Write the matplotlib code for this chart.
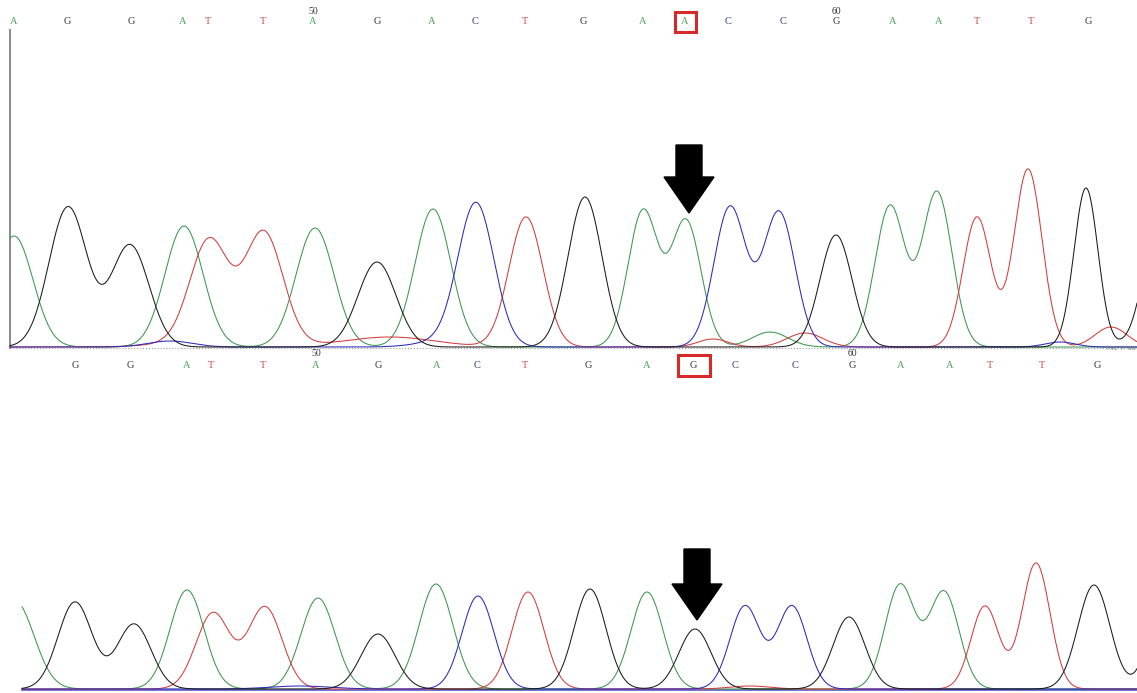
import matplotlib
matplotlib.use("Agg")
import matplotlib.pyplot as plt
import numpy as np
from matplotlib.patches import Polygon, Rectangle

# trace colours and base-call letter colours
trace_colors = {'A': '#3c9650', 'G': '#1a1a1a', 'C': '#2a2ab8', 'T': '#d23c3c'}
letter_colors = {'A': '#4ea35a', 'G': '#333333', 'C': '#34347c', 'T': '#c84a4a'}

# ---- sample 1 (top) ----
top_seq = list("AGGATTAGACTGAACCGAATTG")
top_start = 44
top_label_x = [14, 67, 131, 183, 208, 263, 313, 377, 432, 475, 525, 583, 643, 685, 728, 783, 836, 893, 939, 977, 1031, 1088]
top_peak_x = [14, 68, 130, 184, 209, 264, 315, 377, 433, 476, 526, 585, 643, 686, 730, 779, 836, 890, 937, 977, 1028, 1086]
top_peak_h = [111, 140, 102, 121, 100, 110, 119, 85, 138, 143, 130, 150, 136, 126, 140, 135, 112, 141, 155, 130, 178, 159]
top_peak_w = [19, 19, 19, 19, 19, 19, 19, 19, 18, 18, 17, 17, 15, 15, 16, 16, 16, 15, 15, 14, 14, 12]
# small signals near the baseline + peak cut by the right edge
top_minor_base = ['C', 'T', 'T', 'C', 'T', 'A', 'T', 'C', 'T', 'G']
top_minor_x = [170, 220, 390, 440, 713, 770, 805, 1060, 1111, 1165]
top_minor_h = [6, 8, 10, 5, 8, 15, 14, 5, 20, 170]
top_minor_w = [22, 45, 45, 25, 15, 18, 18, 15, 16, 17]
top_mark = 13

# ---- sample 2 (bottom) ----
bot_seq = list("GGATTAGACTGAGCCGAATTG")
bot_start = 45
bot_label_x = [75, 130, 187, 211, 263, 316, 378, 437, 477, 525, 588, 647, 693, 735, 795, 852, 901, 950, 990, 1042, 1097]
bot_peak_x = [75, 134, 187, 213, 265, 318, 378, 436, 478, 528, 590, 647, 695, 745, 792, 849, 900, 944, 985, 1036, 1094]
bot_peak_h = [87, 65, 99, 76, 82, 91, 55, 105, 93, 97, 100, 97, 60, 83, 83, 72, 104, 97, 83, 126, 104]
bot_peak_w = [17, 17, 17, 17, 17, 17, 17, 17, 16, 16, 16, 16, 16, 15, 15, 16, 15, 15, 14, 14, 16]
bot_minor_base = ['A', 'G', 'T', 'C']
bot_minor_x = [15, 1165, 750, 300]
bot_minor_h = [88, 100, 3, 3]
bot_minor_w = [19, 15, 20, 30]
bot_mark = 12


def draw_trace(ax, x0, x1, bases, xs, hs, ws):
    x = np.linspace(x0, x1, 2500)
    for b in ['A', 'T', 'C', 'G']:
        y = np.ones_like(x)
        for bb, p, h, w in zip(bases, xs, hs, ws):
            if bb == b:
                y += h * np.exp(-0.5 * ((x - p) / w) ** 2)
        ax.plot(x, y, color=trace_colors[b], lw=0.75)


def draw_labels(ax, seq, xs, start, y):
    for i, (b, x) in enumerate(zip(seq, xs)):
        ax.text(x, y, b, color=letter_colors[b], fontsize=7.5, family='Liberation Serif',
                ha='center', va='center')
        if (start + i) % 10 == 0:
            ax.text(x, y + 11, str(start + i), color='#333333', fontsize=7,
                    family='Liberation Serif', ha='center', va='center')


def draw_arrow(ax, tx, ty, length):
    pts = [(tx, ty), (tx - 25, ty + 36), (tx - 13, ty + 36), (tx - 13, ty + length),
           (tx + 13, ty + length), (tx + 13, ty + 36), (tx + 25, ty + 36)]
    ax.add_patch(Polygon(pts, closed=True, color='black', zorder=5))


fig = plt.figure(figsize=(11.37, 6.93), dpi=100)

# top panel: 1 data unit = 1 pixel, baseline at pixel row 348
ax1 = fig.add_axes([0, 343 / 693, 1, 350 / 693])
ax1.set_xlim(0, 1137)
ax1.set_ylim(-2, 348)
ax1.axis('off')
ax1.plot([10, 10], [0, 318], color='#8a8a8a', lw=1.4)
ax1.plot([10, 1137], [0, 0], color='#9a9a9a', lw=0.8, ls=':')
draw_trace(ax1, 10, 1137,
           top_seq + top_minor_base, top_peak_x + top_minor_x,
           top_peak_h + top_minor_h, top_peak_w + top_minor_w)
draw_labels(ax1, top_seq, top_label_x, top_start, 326)
draw_arrow(ax1, top_peak_x[top_mark] + 3, top_peak_h[top_mark] + 9, 68)
ax1.add_patch(Rectangle((top_label_x[top_mark] - 10, 316), 21, 20, fill=False,
                        edgecolor='#d62a2a', lw=2.2))
ax1.text(1136, 0, '79E 7. 66', fontsize=4.5, color='#777777', ha='right', va='center')

# bottom panel: baseline at pixel row 690
ax2 = fig.add_axes([0, 0, 1, 343 / 693])
ax2.set_xlim(0, 1137)
ax2.set_ylim(-3, 340)
ax2.axis('off')
ax2.plot([22, 1137], [0, 0], color='#5a5ac8', lw=1.2)
draw_trace(ax2, 22, 1137,
           bot_seq + bot_minor_base, bot_peak_x + bot_minor_x,
           bot_peak_h + bot_minor_h, bot_peak_w + bot_minor_w)
draw_labels(ax2, bot_seq, bot_label_x, bot_start, 325)
draw_arrow(ax2, bot_peak_x[bot_mark] + 2, bot_peak_h[bot_mark] + 10, 71)
ax2.add_patch(Rectangle((bot_label_x[bot_mark] - 15, 314), 32, 21, fill=False,
                        edgecolor='#d62a2a', lw=2.2))

fig.savefig('out.png', dpi=100)
